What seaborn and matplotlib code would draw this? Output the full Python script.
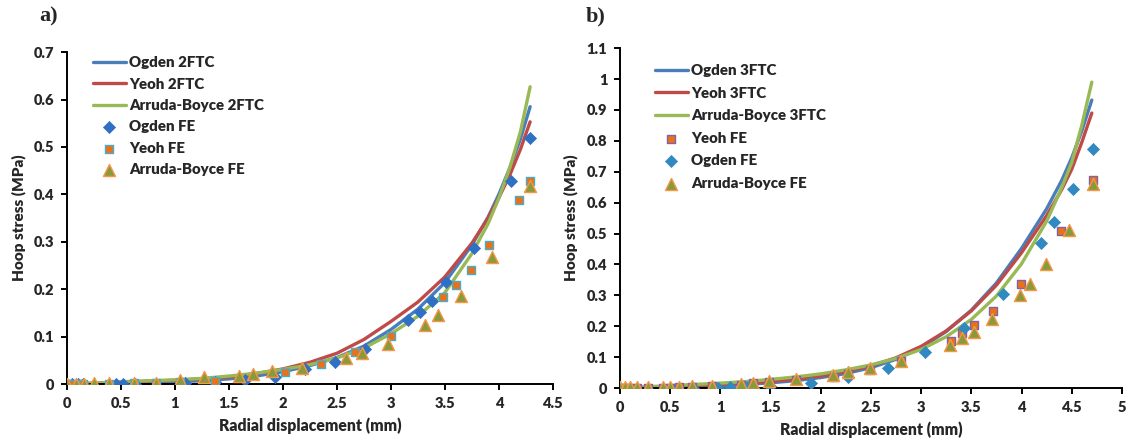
import pandas as pd
import matplotlib.pyplot as plt
import seaborn as sns

# ---- panel a) 2FTC ----
a_x_fit = [0, 0.25, 0.5, 0.75, 1, 1.25, 1.5, 1.75, 2, 2.25, 2.5, 2.75, 3, 3.25, 3.5, 3.75, 3.9, 4.0, 4.1, 4.2, 4.29]
a_ogden_fit = [0, 0.001, 0.002, 0.003, 0.005, 0.007, 0.011, 0.017, 0.026, 0.039, 0.056, 0.080, 0.115, 0.158, 0.214, 0.293, 0.352, 0.400, 0.455, 0.517, 0.585]
a_yeoh_fit = [0, 0.002, 0.004, 0.006, 0.008, 0.011, 0.015, 0.022, 0.032, 0.046, 0.065, 0.094, 0.132, 0.173, 0.226, 0.297, 0.350, 0.393, 0.440, 0.495, 0.553]
a_ab_fit = [0, 0.002, 0.005, 0.007, 0.009, 0.012, 0.017, 0.023, 0.031, 0.041, 0.055, 0.076, 0.106, 0.143, 0.193, 0.275, 0.338, 0.392, 0.455, 0.532, 0.627]

a_ogden_fe_x = [0, 0.05, 0.1, 0.15, 0.45, 0.52, 0.63, 1.09, 1.37, 1.65, 1.93, 2.2, 2.48, 2.76, 3.16, 3.27, 3.38, 3.51, 3.77, 4.11, 4.29]
a_ogden_fe_y = [0, 0, 0, 0, 0, 0, 0.001, 0.002, 0.004, 0.008, 0.015, 0.031, 0.046, 0.074, 0.135, 0.152, 0.176, 0.215, 0.288, 0.429, 0.52]

a_yeoh_fe_x = [0, 0.05, 0.1, 0.15, 0.39, 0.62, 0.82, 1.05, 1.37, 2.02, 2.35, 2.67, 3.0, 3.48, 3.6, 3.74, 3.91, 4.19, 4.29]
a_yeoh_fe_y = [0, 0, 0, 0, 0.001, 0.002, 0.003, 0.005, 0.007, 0.026, 0.043, 0.067, 0.101, 0.184, 0.21, 0.24, 0.293, 0.389, 0.429]

a_ab_fe_x = [0, 0.08, 0.16, 0.25, 0.39, 0.62, 0.82, 1.05, 1.27, 1.59, 1.72, 1.9, 2.18, 2.58, 2.73, 2.97, 3.32, 3.44, 3.65, 3.94, 4.29]
a_ab_fe_y = [0.001, 0.001, 0.001, 0.002, 0.002, 0.002, 0.003, 0.008, 0.014, 0.017, 0.021, 0.027, 0.035, 0.056, 0.065, 0.084, 0.124, 0.146, 0.186, 0.269, 0.418]

a_xticks = [0, 0.5, 1, 1.5, 2, 2.5, 3, 3.5, 4, 4.5]
a_xlabels = ["0", "0.5", "1", "1.5", "2", "2.5", "3", "3.5", "4", "4.5"]
a_yticks = [0, 0.1, 0.2, 0.3, 0.4, 0.5, 0.6, 0.7]
a_ylabels = ["0", "0.1", "0.2", "0.3", "0.4", "0.5", "0.6", "0.7"]

# ---- panel b) 3FTC ----
b_x_fit = [0, 0.25, 0.5, 0.75, 1, 1.25, 1.5, 1.75, 2, 2.25, 2.5, 2.75, 3, 3.25, 3.5, 3.75, 4, 4.25, 4.4, 4.5, 4.6, 4.7]
b_ogden_fit = [0, 0.001, 0.003, 0.005, 0.008, 0.012, 0.017, 0.024, 0.034, 0.047, 0.066, 0.093, 0.131, 0.183, 0.252, 0.340, 0.452, 0.580, 0.672, 0.745, 0.832, 0.932]
b_yeoh_fit = [0, 0.002, 0.005, 0.008, 0.011, 0.016, 0.021, 0.029, 0.039, 0.053, 0.072, 0.098, 0.135, 0.185, 0.250, 0.333, 0.438, 0.558, 0.642, 0.708, 0.795, 0.890]
b_ab_fit = [0, 0.004, 0.008, 0.012, 0.016, 0.021, 0.028, 0.036, 0.046, 0.059, 0.075, 0.096, 0.125, 0.166, 0.222, 0.298, 0.402, 0.540, 0.648, 0.730, 0.850, 0.990]

b_yeoh_fe_x = [0, 0.05, 0.1, 0.17, 0.28, 0.43, 0.5, 0.59, 0.72, 0.92, 1.21, 1.33, 1.49, 1.75, 2.13, 2.27, 2.49, 2.8, 3.3, 3.41, 3.53, 3.72, 3.99, 4.39, 4.71]
b_yeoh_fe_y = [0, 0, 0, 0, 0.001, 0.001, 0.001, 0.002, 0.004, 0.006, 0.011, 0.015, 0.02, 0.026, 0.036, 0.044, 0.058, 0.087, 0.153, 0.177, 0.205, 0.251, 0.336, 0.507, 0.674]

b_ogden_fe_x = [0, 0.05, 0.1, 0.5, 0.73, 0.98, 1.1, 1.27, 1.5, 1.9, 2.27, 2.67, 3.04, 3.43, 3.82, 4.19, 4.32, 4.51, 4.71]
b_ogden_fe_y = [0, 0, 0, 0, 0, 0, 0.004, 0.002, 0.006, 0.018, 0.035, 0.064, 0.117, 0.193, 0.306, 0.468, 0.536, 0.644, 0.773]

b_ab_fe_x = [0, 0.05, 0.1, 0.17, 0.28, 0.43, 0.5, 0.59, 0.72, 0.92, 1.21, 1.33, 1.49, 1.75, 2.12, 2.27, 2.49, 2.8, 3.29, 3.41, 3.53, 3.71, 3.98, 4.08, 4.24, 4.47, 4.71]
b_ab_fe_y = [0.002, 0.002, 0.002, 0.002, 0.002, 0.003, 0.003, 0.004, 0.007, 0.008, 0.014, 0.018, 0.024, 0.03, 0.043, 0.051, 0.066, 0.089, 0.141, 0.161, 0.182, 0.223, 0.3, 0.338, 0.4, 0.513, 0.661]

b_xticks = [0, 0.5, 1, 1.5, 2, 2.5, 3, 3.5, 4, 4.5, 5]
b_xlabels = ["0", "0.5", "1", "1.5", "2", "2.5", "3", "3.5", "4", "4.5", "5"]
b_yticks = [0, 0.1, 0.2, 0.3, 0.4, 0.5, 0.6, 0.7, 0.8, 0.9, 1.0, 1.1]
b_ylabels = ["0", "0.1", "0.2", "0.3", "0.4", "0.5", "0.6", "0.7", "0.8", "0.9", "1", "1.1"]

# colours
BLUE = "#4a7ebb"
RED = "#be4b48"
GREEN = "#98b954"
W = "heavy"

sns.set_style("white")
plt.rcParams['font.family'] = ['Lato', 'DejaVu Sans']
plt.rcParams['font.weight'] = W

fig = plt.figure(figsize=(11.27, 4.42), dpi=100)
ax_a = fig.add_axes([0.0595, 0.131, 0.431, 0.751])
ax_b = fig.add_axes([0.550, 0.122, 0.4455, 0.769])

# a) fitted curves
sns.lineplot(x=a_x_fit, y=a_ogden_fit, ax=ax_a, color=BLUE, lw=2.4, label="Ogden 2FTC", zorder=2)
sns.lineplot(x=a_x_fit, y=a_yeoh_fit, ax=ax_a, color=RED, lw=2.4, label="Yeoh 2FTC", zorder=2)
sns.lineplot(x=a_x_fit, y=a_ab_fit, ax=ax_a, color=GREEN, lw=2.4, label="Arruda-Boyce 2FTC", zorder=2)
# a) FE points
sns.scatterplot(x=a_ogden_fe_x, y=a_ogden_fe_y, ax=ax_a, marker="D", s=38, color="#2f6fc4",
                edgecolor="#2f6fc4", linewidth=0.5, label="Ogden FE", zorder=3)
sns.scatterplot(x=a_yeoh_fe_x, y=a_yeoh_fe_y, ax=ax_a, marker="s", s=36, color="#e8711c",
                edgecolor="#4bacc6", linewidth=1.0, label="Yeoh FE", zorder=3)
sns.scatterplot(x=a_ab_fe_x, y=a_ab_fe_y, ax=ax_a, marker="^", s=75, color="#8a9a3a",
                edgecolor="#f79646", linewidth=1.0, label="Arruda-Boyce FE", zorder=4)

# b) fitted curves
sns.lineplot(x=b_x_fit, y=b_ogden_fit, ax=ax_b, color=BLUE, lw=2.4, label="Ogden 3FTC", zorder=2)
sns.lineplot(x=b_x_fit, y=b_yeoh_fit, ax=ax_b, color=RED, lw=2.4, label="Yeoh 3FTC", zorder=2)
sns.lineplot(x=b_x_fit, y=b_ab_fit, ax=ax_b, color=GREEN, lw=2.4, label="Arruda-Boyce 3FTC", zorder=2)
# b) FE points
sns.scatterplot(x=b_yeoh_fe_x, y=b_yeoh_fe_y, ax=ax_b, marker="s", s=36, color="#e8711c",
                edgecolor="#8064a2", linewidth=1.0, label="Yeoh FE", zorder=3)
sns.scatterplot(x=b_ogden_fe_x, y=b_ogden_fe_y, ax=ax_b, marker="D", s=38, color="#3189c0",
                edgecolor="#3189c0", linewidth=0.5, label="Ogden FE", zorder=3)
sns.scatterplot(x=b_ab_fe_x, y=b_ab_fe_y, ax=ax_b, marker="^", s=75, color="#8a9a3a",
                edgecolor="#f79646", linewidth=1.0, label="Arruda-Boyce FE", zorder=4)

panels = [
    (ax_a, (0, 4.5), (0, 0.7), a_xticks, a_xlabels, a_yticks, a_ylabels, (0.041, 1.006), 0.56),
    (ax_b, (0, 5), (0, 1.1), b_xticks, b_xlabels, b_yticks, b_ylabels, (0.058, 0.971), 0.64),
]
for ax, xl, yl, xt, xtl, yt, ytl, leg_pos, lsp in panels:
    ax.set_xlim(*xl)
    ax.set_ylim(*yl)
    ax.set_xticks(xt)
    ax.set_xticklabels(xtl)
    ax.set_yticks(yt)
    ax.set_yticklabels(ytl)
    for s in ["top", "right"]:
        ax.spines[s].set_visible(False)
    for s in ["left", "bottom"]:
        ax.spines[s].set_color("black")
        ax.spines[s].set_linewidth(1.4)
    ax.tick_params(direction="out", length=4, width=1.4, color="black",
                   labelsize=10.5, pad=5, left=True, bottom=True)
    for lab in ax.get_xticklabels() + ax.get_yticklabels():
        lab.set_fontweight(W)
    ax.set_xlabel("Radial displacement (mm)", fontsize=11.3, fontweight=W, labelpad=6)
    ax.set_ylabel("Hoop stress (MPa)", fontsize=11, fontweight=W, labelpad=6)
    ax.set_facecolor("white")
    leg = ax.legend(loc="upper left", bbox_to_anchor=leg_pos, frameon=False,
                    fontsize=10.8, handlelength=2.2, handletextpad=0.2,
                    labelspacing=lsp, borderaxespad=0)
    for t in leg.get_texts():
        t.set_fontweight(W)

fig.text(0.035, 0.962, "a)", fontsize=16, fontweight="bold", family="Liberation Serif", va="center")
fig.text(0.520, 0.962, "b)", fontsize=16, fontweight="bold", family="Liberation Serif", va="center")

fig.savefig("out.png", dpi=100, facecolor="white")
